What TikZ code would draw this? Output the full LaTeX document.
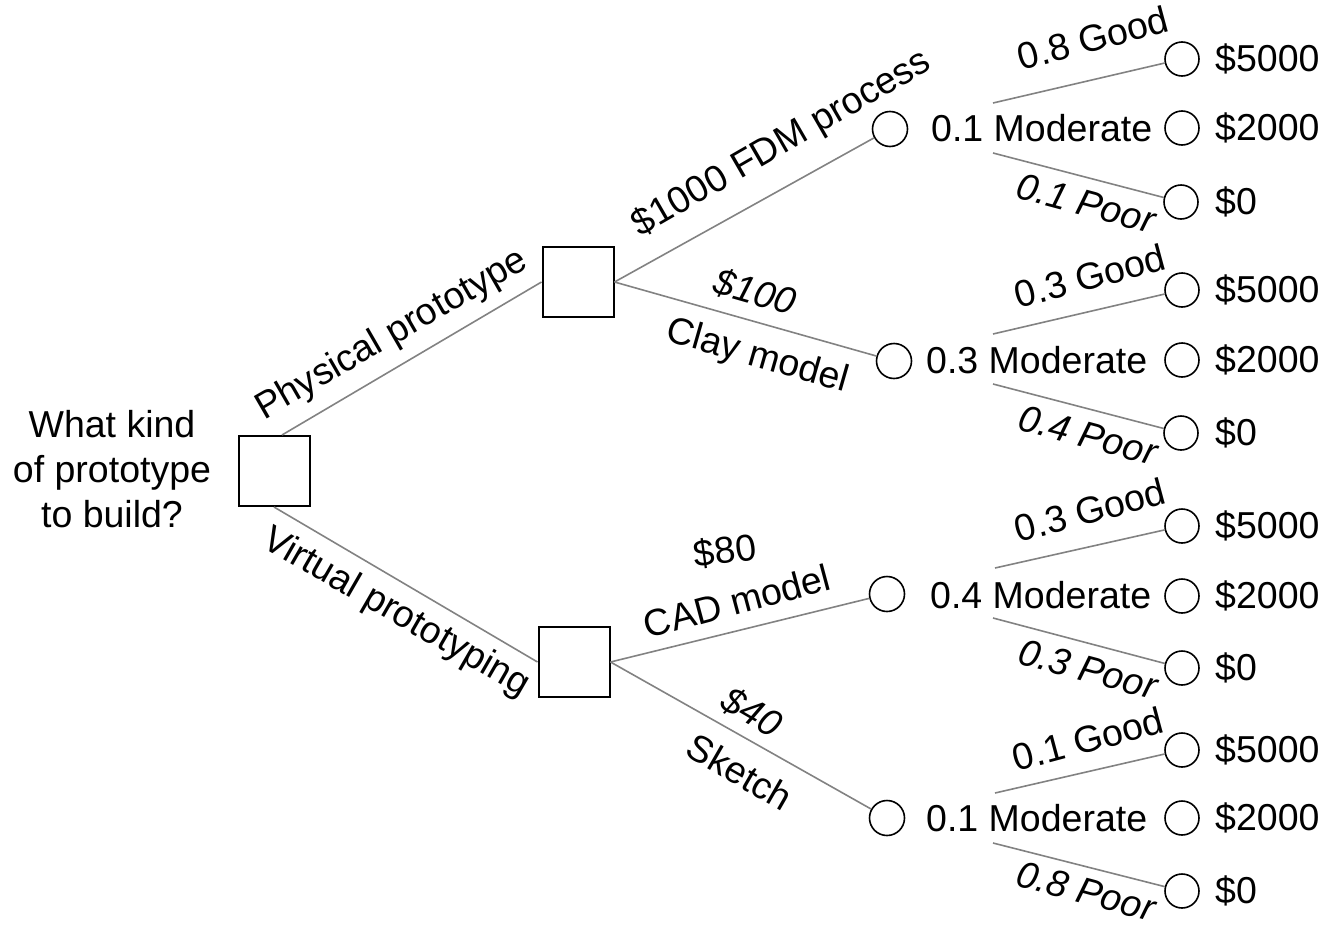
\documentclass[tikz,border=0pt]{standalone}
\usepackage{fontspec}
\setmainfont{Liberation Sans}
\begin{document}
\begin{tikzpicture}[x=1pt,y=-1pt,
  txt/.style={font=\fontsize{37.5}{45}\selectfont, inner sep=0pt},
  lab/.style={txt},
  labi/.style={txt, font=\fontsize{37.5}{45}\selectfont\itshape},
  decbox/.style={draw=black, line width=2pt, minimum width=71pt, minimum height=70pt, inner sep=0pt, fill=white},
  chance/.style={circle, draw=black, line width=1.6pt, minimum size=35pt, inner sep=0pt},
  term/.style={circle, draw=black, line width=1.6pt, minimum size=34pt, inner sep=0pt},
  edge/.style={draw={rgb,255:red,130;green,130;blue,130}, line width=1.6pt}
]
\useasboundingbox (0,0) rectangle (1330,926);

% question
\node[txt, align=center] (q) at (112,469) {What kind\\of prototype\\to build?};

% decision boxes
\node[decbox] (root) at (274,471) {};
\node[decbox] (up) at (578,282) {};
\node[decbox] (lo) at (574,662) {};

% chance nodes
\node[chance] (c1) at (890,129) {};
\node[chance] (c2) at (894,361) {};
\node[chance] (c3) at (887,594) {};
\node[chance] (c4) at (887,818) {};

% terminal nodes
\node[term] (t1g) at (1182,59) {};
\node[term] (t1m) at (1182,128) {};
\node[term] (t1p) at (1181,202) {};
\node[term] (t2g) at (1182,290) {};
\node[term] (t2m) at (1182,360) {};
\node[term] (t2p) at (1181,433) {};
\node[term] (t3g) at (1182,526) {};
\node[term] (t3m) at (1182,596) {};
\node[term] (t3p) at (1182,668) {};
\node[term] (t4g) at (1182,750) {};
\node[term] (t4m) at (1182,818) {};
\node[term] (t4p) at (1182,891) {};

% terminal values
\node[txt, anchor=west] (v1g) at (1215,59) {\$5000};
\node[txt, anchor=west] (v1m) at (1215,128) {\$2000};
\node[txt, anchor=west] (v1p) at (1215,202) {\$0};
\node[txt, anchor=west] (v2g) at (1215,290) {\$5000};
\node[txt, anchor=west] (v2m) at (1215,360) {\$2000};
\node[txt, anchor=west] (v2p) at (1215,433) {\$0};
\node[txt, anchor=west] (v3g) at (1215,526) {\$5000};
\node[txt, anchor=west] (v3m) at (1215,596) {\$2000};
\node[txt, anchor=west] (v3p) at (1215,668) {\$0};
\node[txt, anchor=west] (v4g) at (1215,750) {\$5000};
\node[txt, anchor=west] (v4m) at (1215,818) {\$2000};
\node[txt, anchor=west] (v4p) at (1215,891) {\$0};

% moderate labels
\node[txt, anchor=west] (m1) at (931,128) {0.1 Moderate};
\node[txt, anchor=west] (m2) at (926,360) {0.3 Moderate};
\node[txt, anchor=west] (m3) at (930,595) {0.4 Moderate};
\node[txt, anchor=west] (m4) at (926,818) {0.1 Moderate};

% branch start points
\coordinate (g1s) at (993,103);
\coordinate (p1s) at (993,153);
\coordinate (g2s) at (993,334);
\coordinate (p2s) at (993,384);
\coordinate (g3s) at (995,568);
\coordinate (p3s) at (993,618);
\coordinate (g4s) at (995,793);
\coordinate (p4s) at (993,843);

% connectors
\draw[edge] ([xshift=8pt]root.north) -- (up.west);
\draw[edge] (root.south) -- (lo.west);
\draw[edge] (up.east) -- (c1);
\draw[edge] (up.east) -- (c2);
\draw[edge] (lo.east) -- (c3);
\draw[edge] (lo.east) -- (c4);
\draw[edge] (g1s) -- (t1g);
\draw[edge] (p1s) -- (t1p);
\draw[edge] (g2s) -- (t2g);
\draw[edge] (p2s) -- (t2p);
\draw[edge] (g3s) -- (t3g);
\draw[edge] (p3s) -- (t3p);
\draw[edge] (g4s) -- (t4g);
\draw[edge] (p4s) -- (t4p);

% good / poor labels
\node[lab, rotate=15] (lg1) at (1093,38) {0.8 Good};
\node[labi, rotate=-15] (lp1) at (1086,203) {0.1 Poor};
\node[lab, rotate=15] (lg2) at (1090,276) {0.3 Good};
\node[labi, rotate=-15] (lp2) at (1088,435) {0.4 Poor};
\node[lab, rotate=15] (lg3) at (1090,510) {0.3 Good};
\node[labi, rotate=-15] (lp3) at (1088,669) {0.3 Poor};
\node[lab, rotate=15] (lg4) at (1088,739) {0.1 Good};
\node[labi, rotate=-15] (lp4) at (1086,891) {0.8 Poor};

% branch labels
\node[lab, rotate=30] (lphys) at (392,335) {Physical prototype};
\node[lab, rotate=-30] (lvirt) at (396,613) {Virtual prototyping};
\node[lab, rotate=30] (lfdm) at (782,144) {\$1000 FDM process};
\node[labi, rotate=-16] (l100) at (755,292) {\$100};
\node[lab, rotate=-16] (lclay) at (757,357) {Clay model};
\node[lab, rotate=8] (l80) at (725,551) {\$80};
\node[lab, rotate=15] (lcad) at (737,601) {CAD model};
\node[labi, rotate=-30] (l40) at (752,712) {\$40};
\node[lab, rotate=-30] (lsk) at (740,772) {Sketch};
\end{tikzpicture}
\end{document}
